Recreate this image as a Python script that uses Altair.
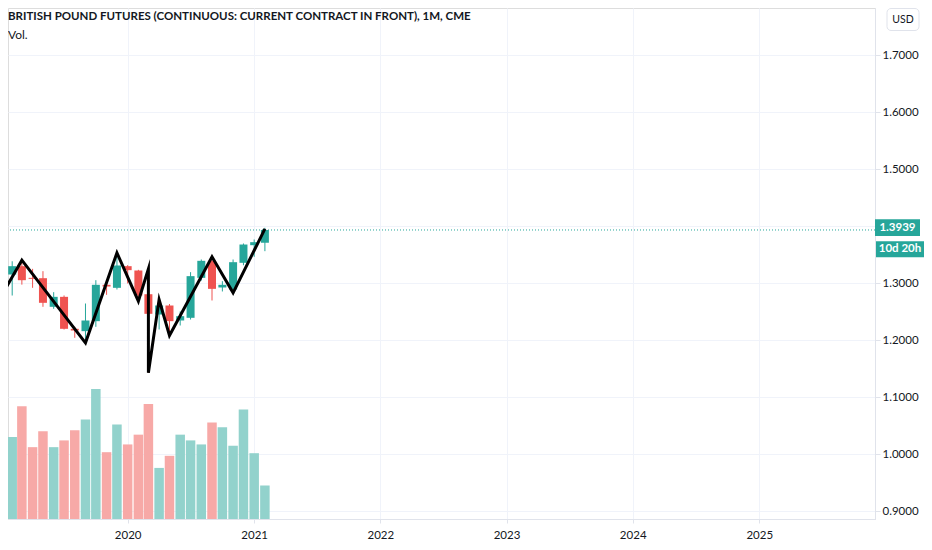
import altair as alt
import pandas as pd

# ---- data ----
months = ["2019-01-01", "2019-02-01", "2019-03-01", "2019-04-01", "2019-05-01", "2019-06-01",
          "2019-07-01", "2019-08-01", "2019-09-01", "2019-10-01", "2019-11-01", "2019-12-01",
          "2020-01-01", "2020-02-01", "2020-03-01", "2020-04-01", "2020-05-01", "2020-06-01",
          "2020-07-01", "2020-08-01", "2020-09-01", "2020-10-01", "2020-11-01", "2020-12-01",
          "2021-01-01", "2021-02-01"]
opens = [1.2760, 1.3158, 1.3304, 1.3099, 1.3093, 1.2591, 1.2766, 1.2205, 1.2164, 1.2339, 1.2977, 1.2924,
         1.3304, 1.3228, 1.2812, 1.2456, 1.2614, 1.2351, 1.2398, 1.3099, 1.3398, 1.2930, 1.2895, 1.3363,
         1.3672, 1.3713]
highs = [1.3250, 1.3390, 1.3409, 1.3257, 1.3216, 1.2848, 1.2790, 1.2240, 1.2649, 1.3058, 1.3041, 1.3538,
         1.3322, 1.3240, 1.3257, 1.2719, 1.2640, 1.2509, 1.3199, 1.3421, 1.3468, 1.3041, 1.3421, 1.3702,
         1.3772, 1.3977]
lows = [1.2480, 1.2789, 1.2980, 1.2924, 1.2591, 1.2556, 1.2193, 1.2047, 1.1959, 1.2240, 1.2801, 1.2895,
        1.3000, 1.2690, 1.1433, 1.2193, 1.2088, 1.2263, 1.2368, 1.3050, 1.2702, 1.2860, 1.2836, 1.3320,
        1.3468, 1.3567]
closes = [1.3150, 1.3304, 1.3058, 1.3082, 1.2661, 1.2766, 1.2205, 1.2175, 1.2351, 1.2977, 1.2947, 1.3316,
          1.3234, 1.2789, 1.2468, 1.2614, 1.2339, 1.2427, 1.3129, 1.3398, 1.2906, 1.2977, 1.3374, 1.3684,
          1.3725, 1.3939]
volumes = [897, 813, 1120, 713, 870, 713, 780, 880, 987, 1290, 663, 937,
           740, 837, 1140, 507, 627, 837, 780, 740, 957, 910, 727, 1087,
           653, 333]

zz_dates = ["2019-01-01", "2019-03-01", "2019-09-01", "2019-12-01", "2020-02-01", "2020-03-01",
            "2020-03-01", "2020-04-01", "2020-05-01", "2020-09-01", "2020-11-01", "2021-02-01"]
zz_prices = [1.2789, 1.3409, 1.1959, 1.3538, 1.2690, 1.3257,
             1.1433, 1.2719, 1.2088, 1.3468, 1.2836, 1.3959]

last_price = [1.3939]
last_label = ["1.3939"]
countdown = ["10d 20h"]
title_text = "BRITISH POUND FUTURES (CONTINUOUS: CURRENT CONTRACT IN FRONT), 1M, CME"
price_ticks = [0.9, 1.0, 1.1, 1.2, 1.3, 1.4, 1.5, 1.6, 1.7]
year_ticks = [2019, 2020, 2021, 2022, 2023, 2024, 2025]

df = pd.DataFrame({"date": months, "o": opens, "h": highs, "l": lows, "c": closes, "v": volumes})
zz = pd.DataFrame({"date": zz_dates, "p": zz_prices, "k": list(range(len(zz_dates)))})
lp = pd.DataFrame({"p": last_price, "lab": last_label, "cd": countdown})

# ---- styles ----
UP, DOWN = "#26a69a", "#ef5350"
VUP, VDOWN = "#92d2cc", "#f7a9a7"
GRID = "#f0f3fa"
BORDER = "#e0e3eb"
TXT = "#131722"
FONT = "Lato"
W, H = 867, 511
PAD_R, PAD_B = 49, 23

xscale = alt.Scale(type="utc",
                   domain=[alt.DateTime(year=2019, month=2, date=3, hours=8, utc=True),
                           alt.DateTime(year=2025, month=11, date=17, hours=10, utc=True)])
xaxis = alt.Axis(values=[alt.DateTime(year=y, month=1, date=1, utc=True) for y in year_ticks],
                 format="%Y", formatType="utc", grid=True, gridColor=GRID, domainColor=BORDER,
                 tickColor=BORDER, tickSize=4, labelPadding=6, labelFontSize=11.5,
                 labelColor=TXT, labelFont=FONT, title=None)
yscale = alt.Scale(domain=[0.88684, 1.78333], nice=False, zero=False)
# the 1.4000 label sits under the last-price tag, as in the reference
yaxis = alt.Axis(orient="right", values=price_ticks,
                 labelExpr="abs(datum.value - 1.4) < 0.001 ? '' : format(datum.value, '.4f')",
                 grid=True, gridColor=GRID,
                 domainColor=BORDER, tickColor=BORDER, tickSize=5, labelPadding=2,
                 labelFontSize=11.5, labelColor=TXT, labelFont=FONT, title=None)
vscale = alt.Scale(domain=[0, 5071], nice=False)

X = alt.X("date:T", scale=xscale, axis=xaxis)
is_up = "datum.c >= datum.o"

volume = alt.Chart(df).mark_bar(size=9.5, clip=True).encode(
    x=X,
    y=alt.Y("v:Q", scale=vscale, axis=None),
    color=alt.condition(is_up, alt.value(VUP), alt.value(VDOWN)),
)

dotted = alt.Chart(lp).mark_rule(color=UP, strokeDash=[1, 2], strokeWidth=1, clip=True).encode(
    y=alt.Y("p:Q", scale=yscale, axis=yaxis)
)

wicks = alt.Chart(df).mark_rule(strokeWidth=1, clip=True).encode(
    x=X,
    y=alt.Y("l:Q", scale=yscale, axis=yaxis),
    y2="h:Q",
    color=alt.condition(is_up, alt.value(UP), alt.value(DOWN)),
)

bodies = alt.Chart(df).mark_bar(size=8, clip=True).encode(
    x=X,
    y=alt.Y("o:Q", scale=yscale, axis=yaxis),
    y2="c:Q",
    color=alt.condition(is_up, alt.value(UP), alt.value(DOWN)),
)

zigzag = alt.Chart(zz).mark_line(color="#000000", strokeWidth=3, clip=True,
                                 strokeJoin="miter", strokeMiterLimit=10).encode(
    x=X,
    y=alt.Y("p:Q", scale=yscale, axis=yaxis),
    order="k:Q",
)

box1 = alt.Chart(lp).transform_calculate(
    top="datum.p + 0.019", bot="datum.p - 0.0105"
).mark_rect(color=UP).encode(
    x=alt.value(W), x2=alt.value(W + 45),
    y=alt.Y("top:Q", scale=yscale, axis=yaxis), y2="bot:Q",
)
text1 = alt.Chart(lp).mark_text(color="white", fontSize=11.5, fontWeight="bold", font=FONT,
                                 dy=-2.4, align="center", baseline="middle").encode(
    x=alt.value(W + 22.5),
    y=alt.Y("p:Q", scale=yscale, axis=yaxis),
    text="lab:N",
)
box2 = alt.Chart(lp).transform_calculate(
    top="datum.p - 0.0196", bot="datum.p - 0.0477"
).mark_rect(color=UP).encode(
    x=alt.value(W + 1), x2=alt.value(W + PAD_R),
    y=alt.Y("top:Q", scale=yscale, axis=yaxis), y2="bot:Q",
)
text2 = alt.Chart(lp).mark_text(color="white", fontSize=11.5, fontWeight="bold", font=FONT,
                                 dy=19.2, align="center", baseline="middle").encode(
    x=alt.value(W + 25),
    y=alt.Y("p:Q", scale=yscale, axis=yaxis),
    text="cd:N",
)

price = alt.layer(dotted, wicks, bodies, zigzag, box1, text1, box2, text2)

labels = pd.DataFrame({"t": [title_text]})
title = alt.Chart(labels).mark_text(align="left", baseline="middle", fontSize=11.5,
                                    fontWeight="bold", font=FONT, color=TXT).encode(
    x=alt.value(0), y=alt.value(9), text="t:N")
vol_df = pd.DataFrame({"t": ["Vol."]})
vol_label = alt.Chart(vol_df).mark_text(align="left", baseline="middle", fontSize=12,
                                        font=FONT, color=TXT).encode(
    x=alt.value(0), y=alt.value(27), text="t:N")
usd_df = pd.DataFrame({"t": ["USD"]})
usd_box = alt.Chart(usd_df).mark_rect(fill="white", stroke=BORDER, strokeWidth=1,
                                      cornerRadius=4).encode(
    x=alt.value(W + 12), x2=alt.value(W + 44), y=alt.value(0.5), y2=alt.value(22.5))
usd_text = alt.Chart(usd_df).mark_text(align="center", baseline="middle", fontSize=10.5,
                                       font=FONT, color=TXT).encode(
    x=alt.value(W + 28), y=alt.value(11.5), text="t:N")

chart = alt.layer(volume, price, title, vol_label, usd_box, usd_text).resolve_scale(
    y="independent"
).properties(
    width=W, height=H,
    padding={"left": 0, "top": 0, "right": PAD_R, "bottom": PAD_B},
    autosize=alt.AutoSizeParams(type="none"),
    background="white",
).configure_view(stroke=None).configure(font=FONT)

chart.save("out.html", embed_options={"renderer": "svg", "actions": False})
